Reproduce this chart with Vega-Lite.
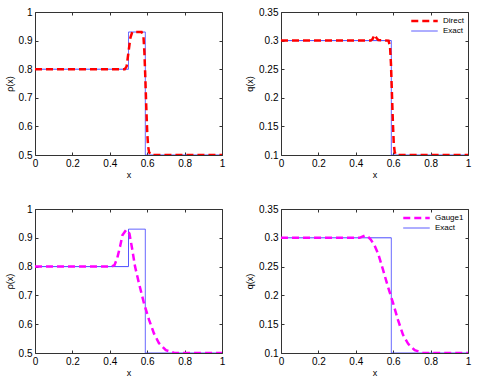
{
  "$schema": "https://vega.github.io/schema/vega-lite/v6.json",
  "padding": {"left": 5, "top": 7, "right": 5, "bottom": 5},
  "background": "white",
  "config": {
    "font": "Liberation Sans",
    "view": {"stroke": null},
    "axis": {
      "grid": false,
      "domainColor": "#333333",
      "tickColor": "#333333",
      "tickSize": -3,
      "labelPadding": 6,
      "labelFontSize": 10,
      "labelColor": "#000000",
      "titleFontSize": 9,
      "titleFontWeight": "normal",
      "titleColor": "#000000",
      "labelFlush": false
    },
    "legend": {"labelFontSize": 8, "labelColor": "#000000"}
  },
  "datasets": {
    "d": [
      {"p":"A","s":"Exact","i":0,"x":0,"y":0.8},
      {"p":"A","s":"Exact","i":1,"x":0.5,"y":0.8},
      {"p":"A","s":"Exact","i":2,"x":0.5,"y":0.93},
      {"p":"A","s":"Exact","i":3,"x":0.59,"y":0.93},
      {"p":"A","s":"Exact","i":4,"x":0.59,"y":0.5},
      {"p":"A","s":"Exact","i":5,"x":1,"y":0.5},
      {"p":"A","s":"Direct","i":0,"x":0,"y":0.8},
      {"p":"A","s":"Direct","i":1,"x":0.48,"y":0.8},
      {"p":"A","s":"Direct","i":2,"x":0.49,"y":0.81},
      {"p":"A","s":"Direct","i":3,"x":0.5,"y":0.86},
      {"p":"A","s":"Direct","i":4,"x":0.51,"y":0.91},
      {"p":"A","s":"Direct","i":5,"x":0.52,"y":0.93},
      {"p":"A","s":"Direct","i":6,"x":0.57,"y":0.93},
      {"p":"A","s":"Direct","i":7,"x":0.58,"y":0.915},
      {"p":"A","s":"Direct","i":8,"x":0.585,"y":0.86},
      {"p":"A","s":"Direct","i":9,"x":0.59,"y":0.77},
      {"p":"A","s":"Direct","i":10,"x":0.595,"y":0.67},
      {"p":"A","s":"Direct","i":11,"x":0.6,"y":0.58},
      {"p":"A","s":"Direct","i":12,"x":0.605,"y":0.53},
      {"p":"A","s":"Direct","i":13,"x":0.61,"y":0.51},
      {"p":"A","s":"Direct","i":14,"x":0.62,"y":0.5},
      {"p":"A","s":"Direct","i":15,"x":1,"y":0.5},
      {"p":"B","s":"Exact","i":0,"x":0,"y":0.3},
      {"p":"B","s":"Exact","i":1,"x":0.59,"y":0.3},
      {"p":"B","s":"Exact","i":2,"x":0.59,"y":0.1},
      {"p":"B","s":"Exact","i":3,"x":1,"y":0.1},
      {"p":"B","s":"Direct","i":0,"x":0,"y":0.3},
      {"p":"B","s":"Direct","i":1,"x":0.48,"y":0.3},
      {"p":"B","s":"Direct","i":2,"x":0.49,"y":0.303},
      {"p":"B","s":"Direct","i":3,"x":0.5,"y":0.31},
      {"p":"B","s":"Direct","i":4,"x":0.51,"y":0.305},
      {"p":"B","s":"Direct","i":5,"x":0.52,"y":0.301},
      {"p":"B","s":"Direct","i":6,"x":0.575,"y":0.3},
      {"p":"B","s":"Direct","i":7,"x":0.583,"y":0.29},
      {"p":"B","s":"Direct","i":8,"x":0.588,"y":0.26},
      {"p":"B","s":"Direct","i":9,"x":0.593,"y":0.21},
      {"p":"B","s":"Direct","i":10,"x":0.598,"y":0.16},
      {"p":"B","s":"Direct","i":11,"x":0.603,"y":0.12},
      {"p":"B","s":"Direct","i":12,"x":0.608,"y":0.105},
      {"p":"B","s":"Direct","i":13,"x":0.615,"y":0.1},
      {"p":"B","s":"Direct","i":14,"x":1,"y":0.1},
      {"p":"C","s":"Exact","i":0,"x":0,"y":0.8},
      {"p":"C","s":"Exact","i":1,"x":0.5,"y":0.8},
      {"p":"C","s":"Exact","i":2,"x":0.5,"y":0.93},
      {"p":"C","s":"Exact","i":3,"x":0.59,"y":0.93},
      {"p":"C","s":"Exact","i":4,"x":0.59,"y":0.5},
      {"p":"C","s":"Exact","i":5,"x":1,"y":0.5},
      {"p":"C","s":"Gauge1","i":0,"x":0,"y":0.8},
      {"p":"C","s":"Gauge1","i":1,"x":0.41,"y":0.8},
      {"p":"C","s":"Gauge1","i":2,"x":0.425,"y":0.805},
      {"p":"C","s":"Gauge1","i":3,"x":0.44,"y":0.83},
      {"p":"C","s":"Gauge1","i":4,"x":0.455,"y":0.87},
      {"p":"C","s":"Gauge1","i":5,"x":0.468,"y":0.91},
      {"p":"C","s":"Gauge1","i":6,"x":0.488,"y":0.928},
      {"p":"C","s":"Gauge1","i":7,"x":0.505,"y":0.915},
      {"p":"C","s":"Gauge1","i":8,"x":0.52,"y":0.86},
      {"p":"C","s":"Gauge1","i":9,"x":0.535,"y":0.8},
      {"p":"C","s":"Gauge1","i":10,"x":0.556,"y":0.742},
      {"p":"C","s":"Gauge1","i":11,"x":0.583,"y":0.672},
      {"p":"C","s":"Gauge1","i":12,"x":0.61,"y":0.615},
      {"p":"C","s":"Gauge1","i":13,"x":0.636,"y":0.568},
      {"p":"C","s":"Gauge1","i":14,"x":0.663,"y":0.534},
      {"p":"C","s":"Gauge1","i":15,"x":0.7,"y":0.51},
      {"p":"C","s":"Gauge1","i":16,"x":0.745,"y":0.5},
      {"p":"C","s":"Gauge1","i":17,"x":1,"y":0.5},
      {"p":"D","s":"Exact","i":0,"x":0,"y":0.3},
      {"p":"D","s":"Exact","i":1,"x":0.59,"y":0.3},
      {"p":"D","s":"Exact","i":2,"x":0.59,"y":0.1},
      {"p":"D","s":"Exact","i":3,"x":1,"y":0.1},
      {"p":"D","s":"Gauge1","i":0,"x":0,"y":0.3},
      {"p":"D","s":"Gauge1","i":1,"x":0.42,"y":0.3},
      {"p":"D","s":"Gauge1","i":2,"x":0.435,"y":0.302},
      {"p":"D","s":"Gauge1","i":3,"x":0.45,"y":0.304},
      {"p":"D","s":"Gauge1","i":4,"x":0.465,"y":0.302},
      {"p":"D","s":"Gauge1","i":5,"x":0.48,"y":0.297},
      {"p":"D","s":"Gauge1","i":6,"x":0.5,"y":0.287},
      {"p":"D","s":"Gauge1","i":7,"x":0.52,"y":0.272},
      {"p":"D","s":"Gauge1","i":8,"x":0.545,"y":0.245},
      {"p":"D","s":"Gauge1","i":9,"x":0.572,"y":0.215},
      {"p":"D","s":"Gauge1","i":10,"x":0.6,"y":0.186},
      {"p":"D","s":"Gauge1","i":11,"x":0.626,"y":0.157},
      {"p":"D","s":"Gauge1","i":12,"x":0.652,"y":0.132},
      {"p":"D","s":"Gauge1","i":13,"x":0.68,"y":0.116},
      {"p":"D","s":"Gauge1","i":14,"x":0.715,"y":0.105},
      {"p":"D","s":"Gauge1","i":15,"x":0.76,"y":0.1},
      {"p":"D","s":"Gauge1","i":16,"x":1,"y":0.1}
    ]
  },
  "spacing": 25,
  "resolve": {"scale": {"color": "independent", "strokeDash": "independent", "strokeWidth": "independent"}},
  "vconcat": [
    {
      "bounds": "flush",
      "spacing": 59,
      "resolve": {"scale": {"color": "independent", "strokeDash": "independent", "strokeWidth": "independent"}},
      "hconcat": [
        {
          "width": 187, "height": 143,
          "data": {"name": "d"},
          "transform": [{"filter": "datum.p == 'A'"}],
          "resolve": {"axis": {"x": "independent", "y": "independent"}},
          "layer": [
            {
              "mark": {"type": "line", "clip": true},
              "encoding": {
                "x": {"field": "x", "type": "quantitative", "scale": {"domain": [0, 1]}, "axis": {"title": "x", "values": [0, 0.2, 0.4, 0.6, 0.8, 1], "format": "~g", "titlePadding": 2}},
                "y": {"field": "y", "type": "quantitative", "scale": {"domain": [0.5, 1]}, "axis": {"title": "ρ(x)", "values": [0.5, 0.6, 0.7, 0.8, 0.9, 1], "format": "~g", "titlePadding": 4}},
                "order": {"field": "i", "type": "quantitative"},
                "color": {"field": "s", "type": "nominal", "scale": {"domain": ["Direct", "Exact"], "range": ["#ff0000", "#4a4aff"]}, "legend": null},
                "strokeDash": {"field": "s", "type": "nominal", "scale": {"domain": ["Direct", "Exact"], "range": [[7, 4], [1, 0]]}, "legend": null},
                "strokeWidth": {"field": "s", "type": "nominal", "scale": {"domain": ["Direct", "Exact"], "range": [2.5, 1]}, "legend": null}
              }
            },
            {
              "mark": {"type": "line", "opacity": 0},
              "encoding": {
                "x": {"field": "x", "type": "quantitative", "scale": {"domain": [0, 1]}, "axis": {"orient": "top", "labels": false, "title": null, "values": [0, 0.2, 0.4, 0.6, 0.8, 1]}},
                "y": {"field": "y", "type": "quantitative", "scale": {"domain": [0.5, 1]}, "axis": {"orient": "right", "labels": false, "title": null, "values": [0.5, 0.6, 0.7, 0.8, 0.9, 1]}},
                "order": {"field": "i", "type": "quantitative"},
                "detail": {"field": "s"}
              }
            }
          ]
        },
        {
          "width": 187, "height": 143,
          "data": {"name": "d"},
          "transform": [{"filter": "datum.p == 'B'"}],
          "resolve": {"axis": {"x": "independent", "y": "independent"}},
          "layer": [
            {
              "mark": {"type": "line", "clip": true},
              "encoding": {
                "x": {"field": "x", "type": "quantitative", "scale": {"domain": [0, 1]}, "axis": {"title": "x", "values": [0, 0.2, 0.4, 0.6, 0.8, 1], "format": "~g", "titlePadding": 2}},
                "y": {"field": "y", "type": "quantitative", "scale": {"domain": [0.1, 0.35]}, "axis": {"title": "q(x)", "values": [0.1, 0.15, 0.2, 0.25, 0.3, 0.35], "format": "~g", "titlePadding": 4}},
                "order": {"field": "i", "type": "quantitative"},
                "color": {"field": "s", "type": "nominal", "scale": {"domain": ["Direct", "Exact"], "range": ["#ff0000", "#4a4aff"]}, "legend": {"orient": "top-right", "title": null, "symbolType": "stroke", "symbolSize": 700, "clipHeight": 10, "labelFontSize": 8, "rowPadding": 0, "offset": 4, "padding": 0}},
                "strokeDash": {"field": "s", "type": "nominal", "scale": {"domain": ["Direct", "Exact"], "range": [[7, 4], [1, 0]]}},
                "strokeWidth": {"field": "s", "type": "nominal", "scale": {"domain": ["Direct", "Exact"], "range": [2.5, 1]}}
              }
            },
            {
              "mark": {"type": "line", "opacity": 0},
              "encoding": {
                "x": {"field": "x", "type": "quantitative", "scale": {"domain": [0, 1]}, "axis": {"orient": "top", "labels": false, "title": null, "values": [0, 0.2, 0.4, 0.6, 0.8, 1]}},
                "y": {"field": "y", "type": "quantitative", "scale": {"domain": [0.1, 0.35]}, "axis": {"orient": "right", "labels": false, "title": null, "values": [0.1, 0.15, 0.2, 0.25, 0.3, 0.35]}},
                "order": {"field": "i", "type": "quantitative"},
                "detail": {"field": "s"}
              }
            }
          ]
        }
      ]
    },
    {
      "bounds": "flush",
      "spacing": 59,
      "resolve": {"scale": {"color": "independent", "strokeDash": "independent", "strokeWidth": "independent"}},
      "hconcat": [
        {
          "width": 187, "height": 144,
          "data": {"name": "d"},
          "transform": [{"filter": "datum.p == 'C'"}],
          "resolve": {"axis": {"x": "independent", "y": "independent"}},
          "layer": [
            {
              "mark": {"type": "line", "clip": true},
              "encoding": {
                "x": {"field": "x", "type": "quantitative", "scale": {"domain": [0, 1]}, "axis": {"title": "x", "values": [0, 0.2, 0.4, 0.6, 0.8, 1], "format": "~g", "titlePadding": 2}},
                "y": {"field": "y", "type": "quantitative", "scale": {"domain": [0.5, 1]}, "axis": {"title": "ρ(x)", "values": [0.5, 0.6, 0.7, 0.8, 0.9, 1], "format": "~g", "titlePadding": 4}},
                "order": {"field": "i", "type": "quantitative"},
                "color": {"field": "s", "type": "nominal", "scale": {"domain": ["Gauge1", "Exact"], "range": ["#ff00ff", "#4a4aff"]}, "legend": null},
                "strokeDash": {"field": "s", "type": "nominal", "scale": {"domain": ["Gauge1", "Exact"], "range": [[7, 4], [1, 0]]}, "legend": null},
                "strokeWidth": {"field": "s", "type": "nominal", "scale": {"domain": ["Gauge1", "Exact"], "range": [2.5, 1]}, "legend": null}
              }
            },
            {
              "mark": {"type": "line", "opacity": 0},
              "encoding": {
                "x": {"field": "x", "type": "quantitative", "scale": {"domain": [0, 1]}, "axis": {"orient": "top", "labels": false, "title": null, "values": [0, 0.2, 0.4, 0.6, 0.8, 1]}},
                "y": {"field": "y", "type": "quantitative", "scale": {"domain": [0.5, 1]}, "axis": {"orient": "right", "labels": false, "title": null, "values": [0.5, 0.6, 0.7, 0.8, 0.9, 1]}},
                "order": {"field": "i", "type": "quantitative"},
                "detail": {"field": "s"}
              }
            }
          ]
        },
        {
          "width": 187, "height": 144,
          "data": {"name": "d"},
          "transform": [{"filter": "datum.p == 'D'"}],
          "resolve": {"axis": {"x": "independent", "y": "independent"}},
          "layer": [
            {
              "mark": {"type": "line", "clip": true},
              "encoding": {
                "x": {"field": "x", "type": "quantitative", "scale": {"domain": [0, 1]}, "axis": {"title": "x", "values": [0, 0.2, 0.4, 0.6, 0.8, 1], "format": "~g", "titlePadding": 2}},
                "y": {"field": "y", "type": "quantitative", "scale": {"domain": [0.1, 0.35]}, "axis": {"title": "q(x)", "values": [0.1, 0.15, 0.2, 0.25, 0.3, 0.35], "format": "~g", "titlePadding": 4}},
                "order": {"field": "i", "type": "quantitative"},
                "color": {"field": "s", "type": "nominal", "scale": {"domain": ["Gauge1", "Exact"], "range": ["#ff00ff", "#4a4aff"]}, "legend": {"orient": "top-right", "title": null, "symbolType": "stroke", "symbolSize": 700, "clipHeight": 10, "labelFontSize": 8, "rowPadding": 0, "offset": 4, "padding": 0}},
                "strokeDash": {"field": "s", "type": "nominal", "scale": {"domain": ["Gauge1", "Exact"], "range": [[7, 4], [1, 0]]}},
                "strokeWidth": {"field": "s", "type": "nominal", "scale": {"domain": ["Gauge1", "Exact"], "range": [2.5, 1]}}
              }
            },
            {
              "mark": {"type": "line", "opacity": 0},
              "encoding": {
                "x": {"field": "x", "type": "quantitative", "scale": {"domain": [0, 1]}, "axis": {"orient": "top", "labels": false, "title": null, "values": [0, 0.2, 0.4, 0.6, 0.8, 1]}},
                "y": {"field": "y", "type": "quantitative", "scale": {"domain": [0.1, 0.35]}, "axis": {"orient": "right", "labels": false, "title": null, "values": [0.1, 0.15, 0.2, 0.25, 0.3, 0.35]}},
                "order": {"field": "i", "type": "quantitative"},
                "detail": {"field": "s"}
              }
            }
          ]
        }
      ]
    }
  ]
}
